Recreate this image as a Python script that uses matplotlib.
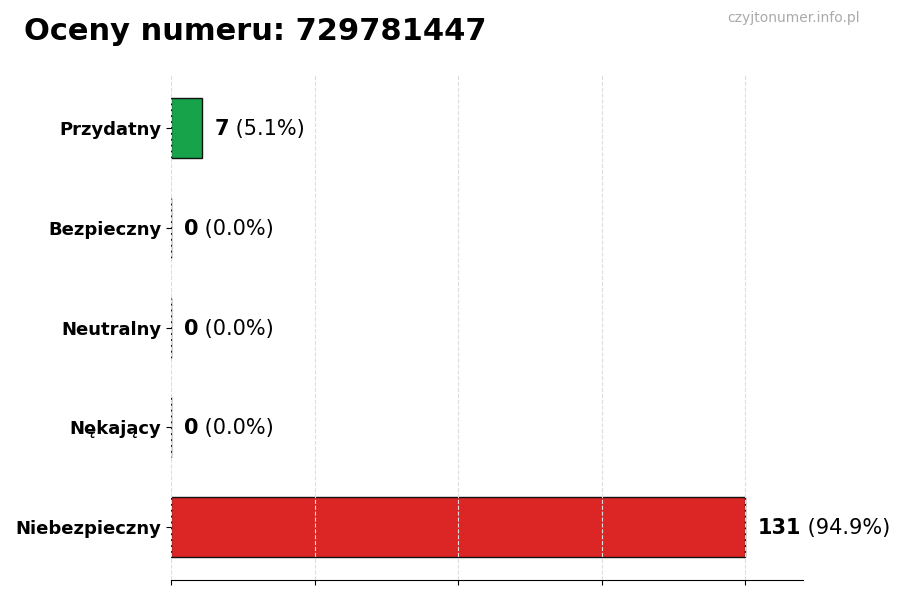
import matplotlib
matplotlib.use("Agg")
import matplotlib.pyplot as plt
import numpy as np

categories = ["Przydatny", "Bezpieczny", "Neutralny", "Nękający", "Niebezpieczny"]
counts = [7, 0, 0, 0, 131]
percents = [5.1, 0.0, 0.0, 0.0, 94.9]
colors = ["#16a34a", "#9ca3af", "#6b7280", "#f97316", "#dc2626"]

total_max = max(counts)

fig = plt.figure(figsize=(9, 6), dpi=100)
ax = fig.add_axes([0.19, 0.033, 0.702, 0.842])

y = np.arange(len(categories))
ax.barh(y, counts, height=0.6, color=colors, edgecolor="#111111", linewidth=1.0, zorder=1)
ax.invert_yaxis()
ax.set_xlim(0, total_max * 1.1)
ax.set_xticks(np.linspace(0, total_max, 5))
ax.set_xticklabels([])
ax.set_yticks(y)
ax.set_yticklabels(categories, fontsize=13, fontweight="bold")
ax.grid(axis="x", linestyle="--", color="#dddddd", linewidth=0.8, zorder=3)
ax.set_axisbelow(False)
for s in ["top", "right", "left"]:
    ax.spines[s].set_visible(False)

for yi, c, p in zip(y, counts, percents):
    t = ax.text(c + total_max * 0.022, yi + 0.01, str(c), fontsize=15, fontweight="bold",
                va="center", ha="left")
    ax.annotate(f" ({p:.1f}%)", xy=(1, 0.5), xycoords=t, va="center", ha="left",
                fontsize=15)

fig.text(0.027, 0.947, "Oceny numeru: 729781447", fontsize=22, fontweight="bold",
         va="center", ha="left")
fig.text(0.955, 0.97, "czyjtonumer.info.pl", fontsize=10, color="#aaaaaa",
         va="center", ha="right")

fig.savefig("out.png", dpi=100)
